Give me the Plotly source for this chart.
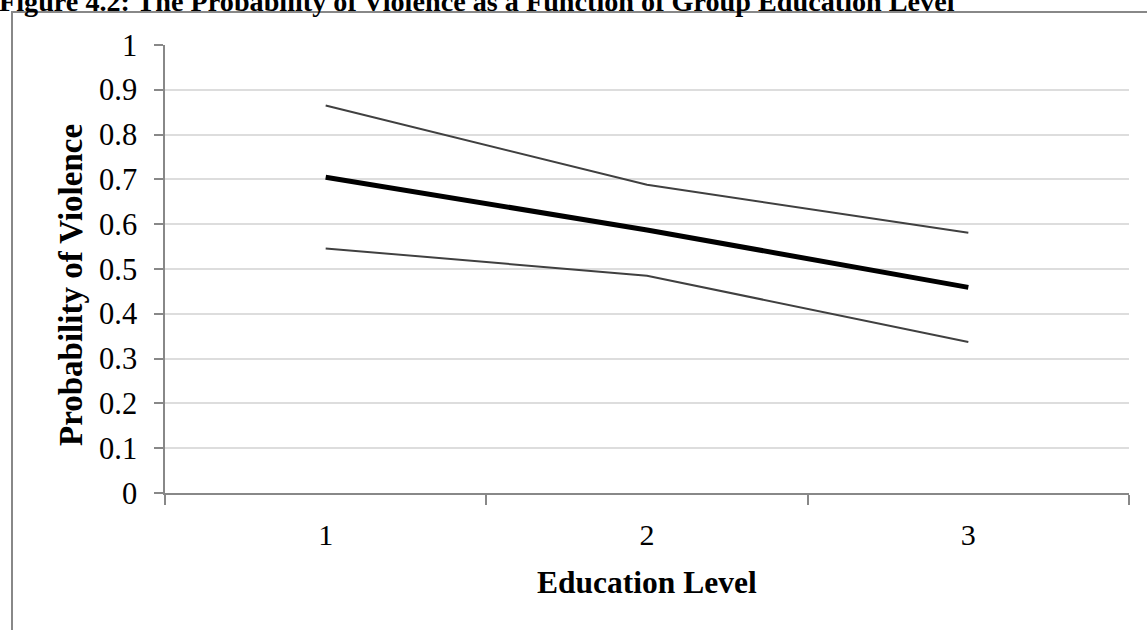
import plotly.graph_objects as go

categories = ["1", "2", "3"]
predicted = [0.705, 0.587, 0.459]
upper_bound = [0.865, 0.688, 0.581]
lower_bound = [0.546, 0.485, 0.337]
y_ticks = [0, 0.1, 0.2, 0.3, 0.4, 0.5, 0.6, 0.7, 0.8, 0.9, 1]
y_tick_labels = ["0", "0.1", "0.2", "0.3", "0.4", "0.5", "0.6", "0.7", "0.8", "0.9", "1"]

W, H = 1147, 630
L, R, T, B = 165, 18, 45, 137
pw, ph = W - L - R, H - T - B

def px_x(p):
    return (p - L) / pw

def px_y(p):
    return (H - B - p) / ph

FONT = "Liberation Serif, Times New Roman, serif"

fig = go.Figure()
fig.add_trace(go.Scatter(x=categories, y=upper_bound, mode="lines",
                         line=dict(color="#404040", width=2), showlegend=False))
fig.add_trace(go.Scatter(x=categories, y=lower_bound, mode="lines",
                         line=dict(color="#404040", width=2), showlegend=False))
fig.add_trace(go.Scatter(x=categories, y=predicted, mode="lines",
                         line=dict(color="#000000", width=5), showlegend=False))

fig.update_layout(
    width=W, height=H,
    margin=dict(l=L, r=R, t=T, b=B, pad=0, autoexpand=False),
    paper_bgcolor="white", plot_bgcolor="white",
    font=dict(family=FONT, color="black", size=30),
    xaxis=dict(type="category", range=[-0.5, 2.5], tickson="boundaries",
               ticks="outside", ticklen=10, tickcolor="#888888", tickwidth=1.5,
               showline=True, linecolor="#888888", linewidth=1.5,
               showgrid=False, zeroline=False, automargin=False,
               tickfont=dict(size=30, family=FONT), ticklabelstandoff=14),
    yaxis=dict(range=[0, 1], tickvals=y_ticks, ticktext=y_tick_labels,
               ticks="outside", ticklen=9, tickcolor="#888888", tickwidth=1.5,
               showline=True, linecolor="#888888", linewidth=1.5,
               showgrid=True, gridcolor="#dddddd", gridwidth=1.5,
               zeroline=False, automargin=False, tickfont=dict(size=30.5, family=FONT),
               ticklabelstandoff=11),
)

fig.add_shape(type="rect", xref="paper", yref="paper",
              x0=px_x(12), x1=px_x(1170), y0=px_y(12), y1=px_y(660),
              line=dict(color="#888888", width=2), fillcolor="rgba(0,0,0,0)",
              layer="below")

fig.add_annotation(text="<b>Figure 4.2: The Probability of Violence as a Function of Group Education Level</b>",
                   xref="paper", yref="paper", x=px_x(-2), y=px_y(18),
                   xanchor="left", yanchor="bottom", showarrow=False, borderpad=0,
                   font=dict(size=28.2, family=FONT, color="black"))
fig.add_annotation(text="<b>Education Level</b>", xref="paper", yref="paper",
                   x=px_x(647), y=px_y(582), xanchor="center", yanchor="middle",
                   showarrow=False, font=dict(size=31.5, family=FONT))
fig.add_annotation(text="<b>Probability of Violence</b>", xref="paper", yref="paper",
                   x=px_x(71), y=px_y(285), xanchor="center", yanchor="middle",
                   textangle=-90, showarrow=False, font=dict(size=33, family=FONT))

fig.write_html("out.html", config={"displayModeBar": False},
               post_script="document.body.style.margin='0';")
